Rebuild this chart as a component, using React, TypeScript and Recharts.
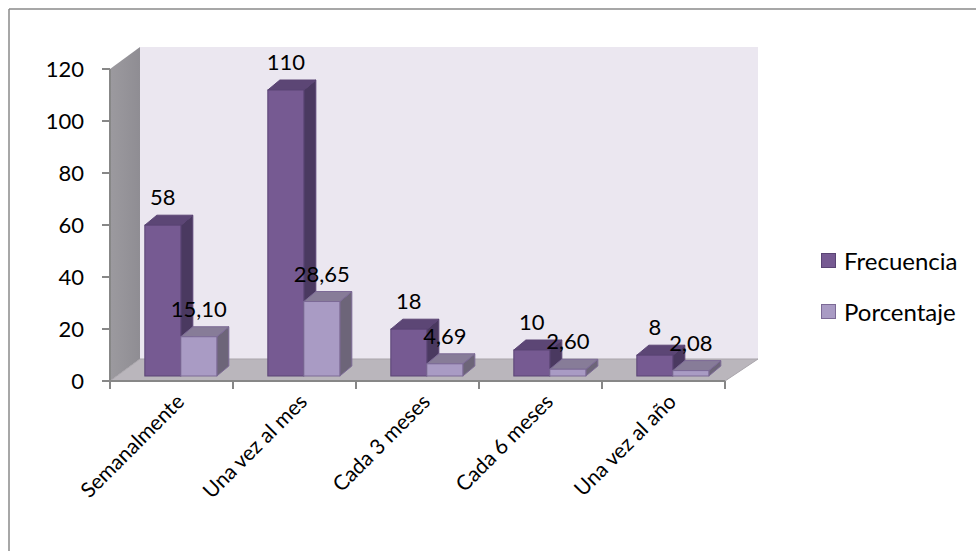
import { Bar, BarChart, XAxis, YAxis, ReferenceArea, LabelList } from "recharts";

const categories = ["Semanalmente", "Una vez al mes", "Cada 3 meses", "Cada 6 meses", "Una vez al año"];
const frecuencia = [58, 110, 18, 10, 8];
const porcentaje = [15.1, 28.65, 4.69, 2.6, 2.08];
const yTicks = [0, 20, 40, 60, 80, 100, 120];

const data = categories.map((name, i) => ({ name, frecuencia: frecuencia[i], porcentaje: porcentaje[i] }));

const FONT = "Lato, 'Open Sans', sans-serif";
const NUM_FS = 22;
const CAT_FS = 21;
const LEG_FS = 24;
const AXIS = "#878787";
// 3D look: bars sit a bit behind the floor's front edge
const SHIFT_X = 9;
const SHIFT_Y = -5;
const DEPTH_X = 12;
const DEPTH_Y = 10;

const colors = {
  frecuencia: { front: "#765a92", top: "#5c4675", side: "#4a3960", stroke: "#5a4474" },
  porcentaje: { front: "#a99bc4", top: "#877c98", side: "#6d6579", stroke: "#7c6a96" },
};

function makeBox(c: typeof colors.frecuencia) {
  return (props: any) => {
    const { x, y, width, height } = props;
    const fx = x + SHIFT_X;
    const fy = y + SHIFT_Y;
    const w = width;
    const h = Math.max(height, 0);
    const top = `${fx},${fy} ${fx + DEPTH_X},${fy - DEPTH_Y} ${fx + w + DEPTH_X},${fy - DEPTH_Y} ${fx + w},${fy}`;
    const side = `${fx + w},${fy} ${fx + w + DEPTH_X},${fy - DEPTH_Y} ${fx + w + DEPTH_X},${fy + h - DEPTH_Y} ${fx + w},${fy + h}`;
    return (
      <g>
        <polygon points={side} fill={c.side} stroke={c.stroke} strokeWidth={1} strokeLinejoin="round" />
        <polygon points={top} fill={c.top} stroke={c.stroke} strokeWidth={1} strokeLinejoin="round" />
        <rect x={fx} y={fy} width={w} height={h} fill={c.front} stroke={c.stroke} strokeWidth={1} />
      </g>
    );
  };
}

function Walls(props: any) {
  const { x, y, width, height } = props;
  const x1 = x + width;
  const y1 = y + height;
  const dl = 30;
  const dr = 33;
  const dy = 22;
  return (
    <g>
      <defs>
        <linearGradient id="sideWall" x1="0" y1="0" x2="1" y2="0">
          <stop offset="0%" stopColor="#9c9a9f" />
          <stop offset="100%" stopColor="#8f8d93" />
        </linearGradient>
      </defs>
      <rect x={x + dl} y={y - dy} width={x1 + dr - x - dl} height={height} fill="#ebe7f0" />
      <polygon points={`${x},${y} ${x + dl},${y - dy} ${x + dl},${y1 - dy} ${x},${y1}`} fill="url(#sideWall)" />
      <polygon
        points={`${x},${y1} ${x1},${y1} ${x1 + dr},${y1 - dy} ${x + dl},${y1 - dy}`}
        fill="#bab6bc"
        stroke="#a9a5ab"
        strokeWidth={1}
      />
    </g>
  );
}

function makeLabel(fmt: (v: number) => string) {
  return (props: any) => {
    const { x, y, width, value } = props;
    return (
      <text
        x={x + width / 2 + SHIFT_X}
        y={y + SHIFT_Y - 20}
        textAnchor="middle"
        fontFamily={FONT}
        fontSize={NUM_FS}
        fill="#000"
      >
        {fmt(value)}
      </text>
    );
  };
}

function CategoryTick(props: any) {
  const { x, y, payload, index } = props;
  const band = 123;
  return (
    <g>
      <line x1={x - band / 2} y1={y} x2={x - band / 2} y2={y + 8} stroke={AXIS} strokeWidth={2} />
      {index === categories.length - 1 && (
        <line x1={x + band / 2} y1={y} x2={x + band / 2} y2={y + 8} stroke={AXIS} strokeWidth={2} />
      )}
      <text
        transform={`translate(${x + 14},${y + 22}) rotate(-45)`}
        textAnchor="end"
        fontFamily={FONT}
        fontSize={CAT_FS}
        fill="#000"
      >
        {payload.value}
      </text>
    </g>
  );
}

function LegendBox() {
  const items = [
    { label: "Frecuencia", c: colors.frecuencia },
    { label: "Porcentaje", c: colors.porcentaje },
  ];
  return (
    <div style={{ fontFamily: FONT, fontSize: LEG_FS, color: "#000" }}>
      {items.map((it, i) => (
        <div key={it.label} style={{ display: "flex", alignItems: "center", height: 26, marginTop: i ? 25 : 0 }}>
          <span
            style={{
              display: "inline-block",
              width: 13,
              height: 13,
              background: it.c.front,
              border: `1px solid ${it.c.stroke}`,
              marginRight: 8,
            }}
          />
          {it.label}
        </div>
      ))}
    </div>
  );
}

export default function App() {
  return (
    <div style={{ position: "absolute", left: 0, top: 0, width: 976, height: 551, background: "#fff" }}>
      <svg width={976} height={551} style={{ position: "absolute", left: 0, top: 0 }}>
        <line x1={9} y1={9} x2={976} y2={9} stroke="#8a8a8a" strokeWidth={1.5} />
        <line x1={9} y1={9} x2={9} y2={551} stroke="#8a8a8a" strokeWidth={1.5} />
      </svg>
      <div style={{ position: "absolute", left: 0, top: 0 }}>
        <BarChart
          width={976}
          height={551}
          data={data}
          margin={{ top: 69, right: 251, bottom: 110, left: 50 }}
          barCategoryGap="21%"
          barGap={0}
        >
          <ReferenceArea y1={0} y2={120} ifOverflow="visible" shape={<Walls />} />
          <XAxis
            dataKey="name"
            height={60}
            interval={0}
            axisLine={{ stroke: AXIS, strokeWidth: 2 }}
            tickLine={false}
            tickSize={0}
            tickMargin={0}
            tick={<CategoryTick />}
          />
          <YAxis
            width={60}
            domain={[0, 120]}
            ticks={yTicks}
            interval={0}
            axisLine={{ stroke: AXIS, strokeWidth: 2 }}
            tickLine={{ stroke: AXIS, strokeWidth: 2 }}
            tickSize={8}
            tickMargin={18}
            tick={{ fontFamily: FONT, fontSize: NUM_FS, fill: "#000" }}
          />
          <Bar dataKey="frecuencia" name="Frecuencia" isAnimationActive={false} shape={makeBox(colors.frecuencia)}>
            <LabelList dataKey="frecuencia" content={makeLabel((v) => String(v))} />
          </Bar>
          <Bar dataKey="porcentaje" name="Porcentaje" isAnimationActive={false} shape={makeBox(colors.porcentaje)}>
            <LabelList dataKey="porcentaje" content={makeLabel((v) => v.toFixed(2).replace(".", ","))} />
          </Bar>
        </BarChart>
      </div>
      <div style={{ position: "absolute", left: 821, top: 247 }}>
        <LegendBox />
      </div>
    </div>
  );
}
